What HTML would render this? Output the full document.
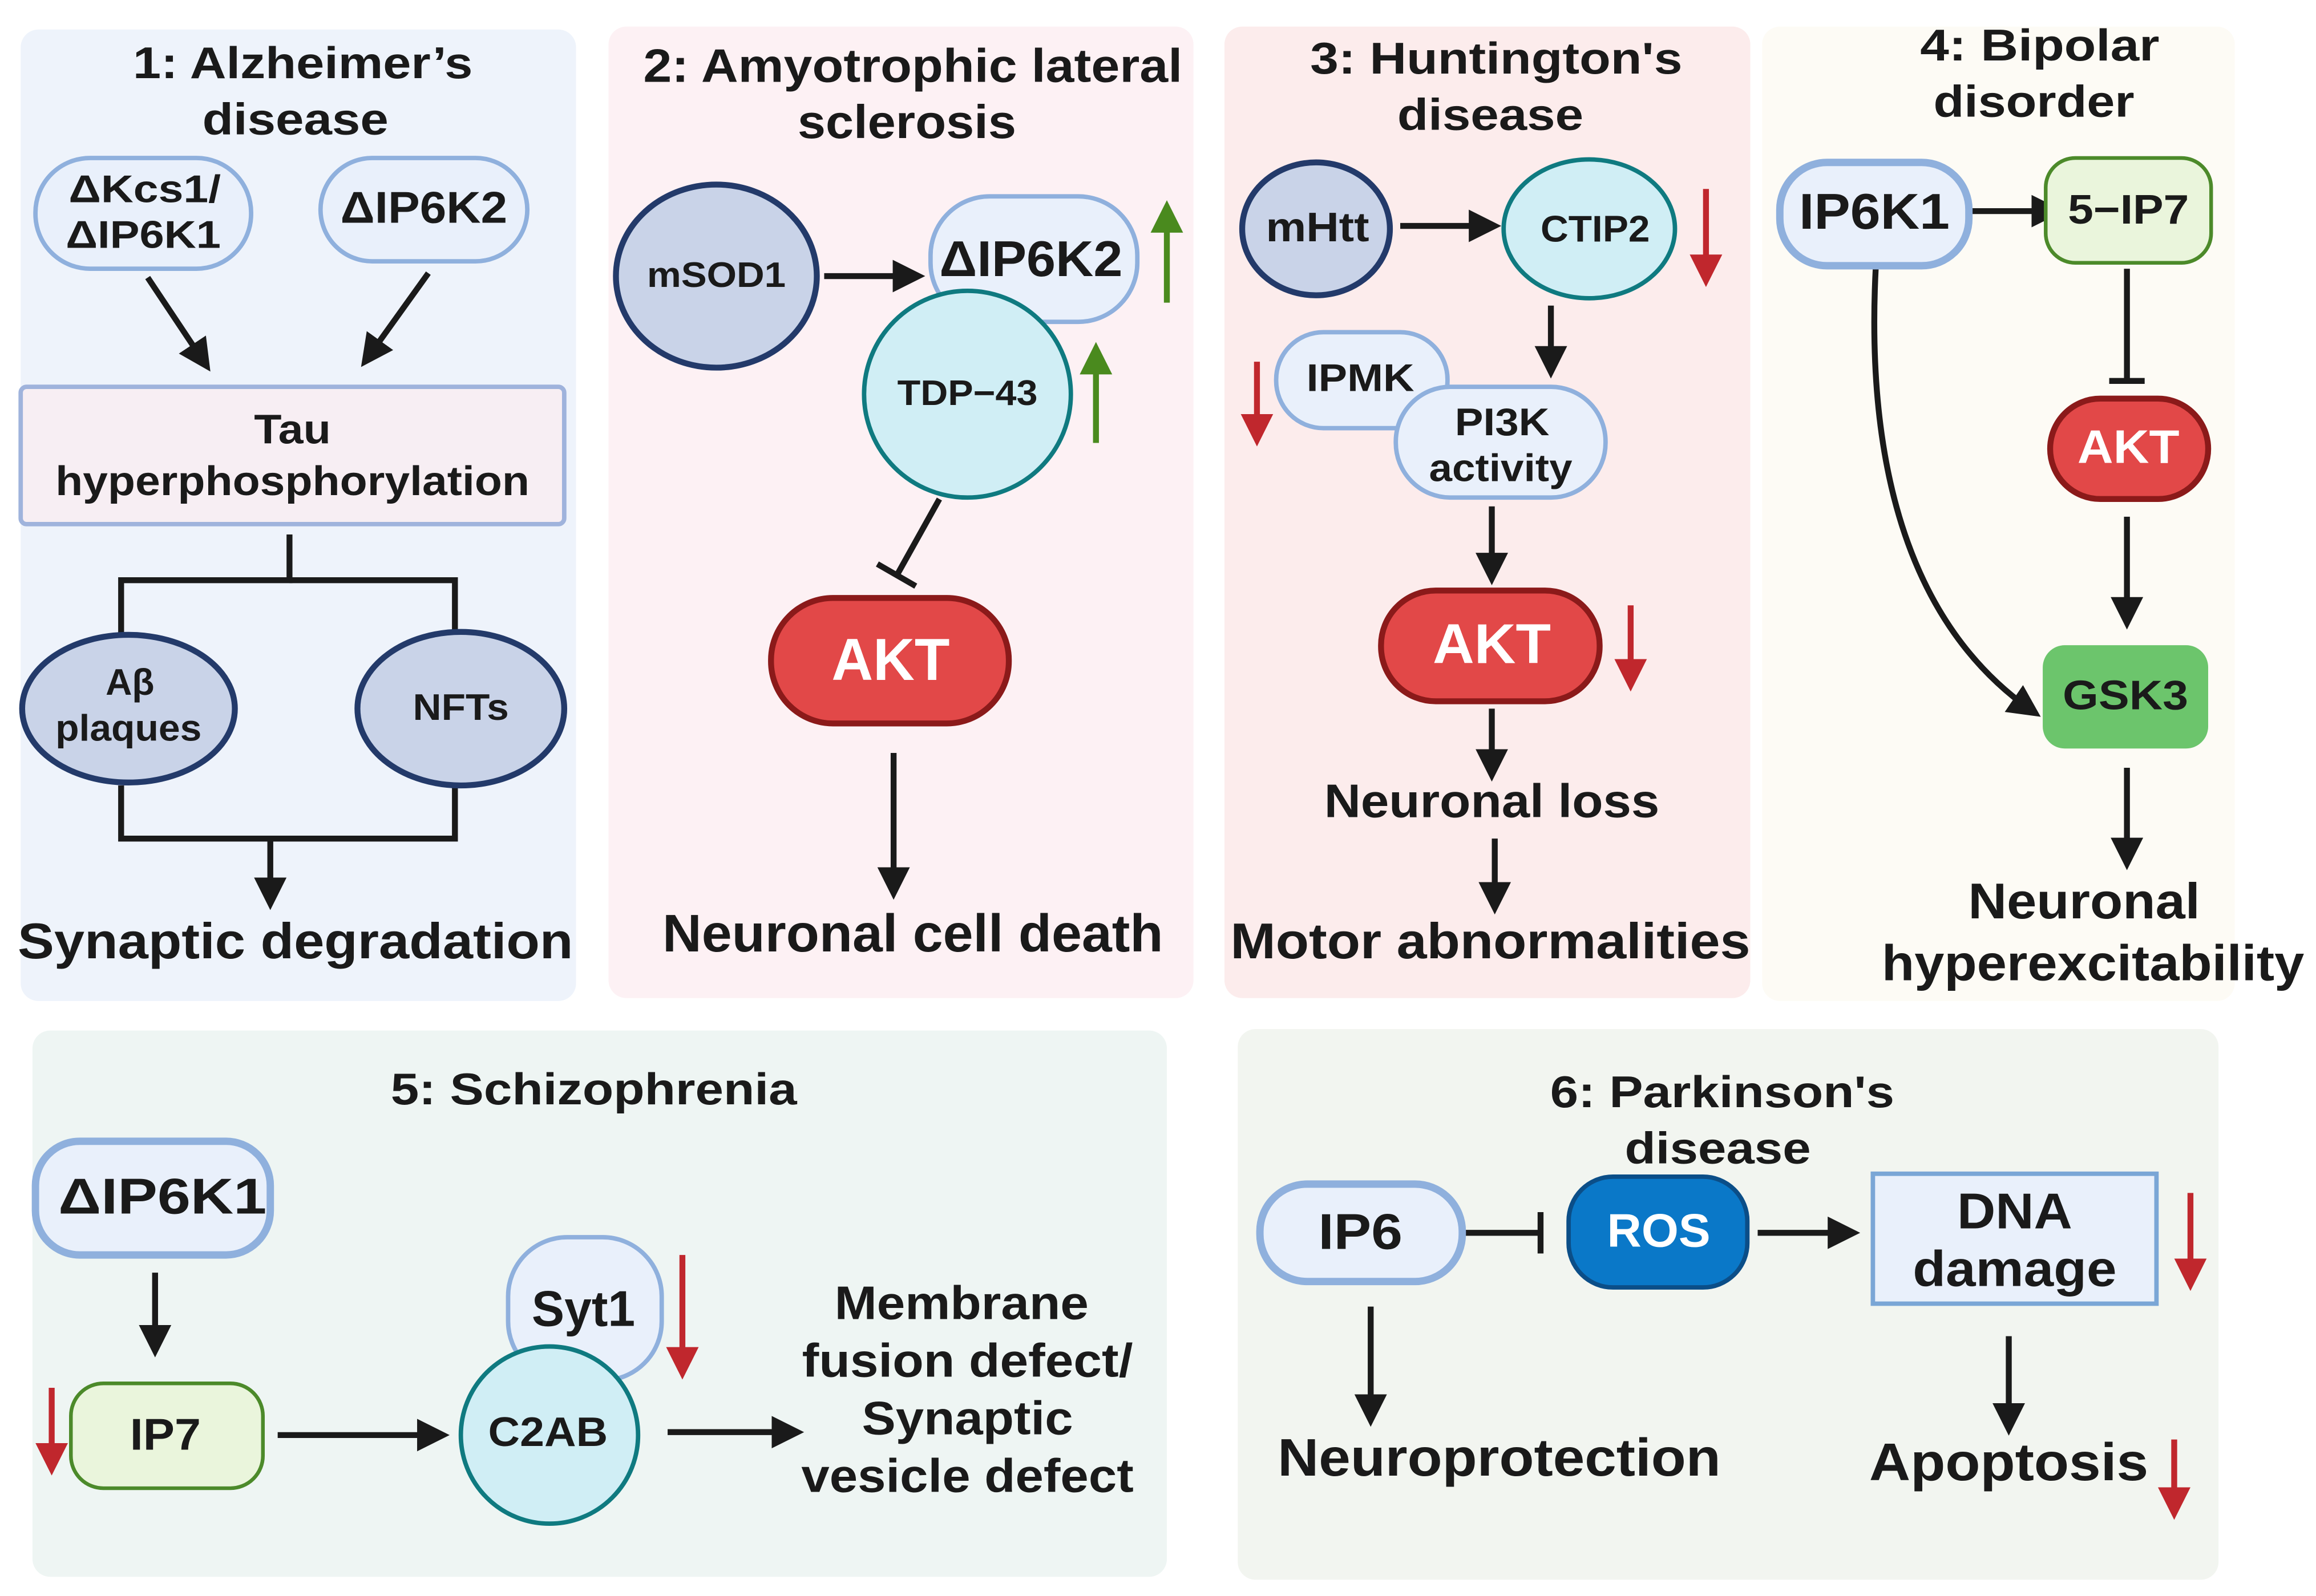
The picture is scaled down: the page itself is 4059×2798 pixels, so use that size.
<!DOCTYPE html>
<html><head><meta charset="utf-8"><style>
html,body{margin:0;padding:0;background:#fff;}
svg{display:block;}
text{font-family:"Liberation Sans",sans-serif;font-weight:bold;fill:#1a1a1a;text-anchor:middle;dominant-baseline:middle;}
</style></head><body>
<svg width="4059" height="2798" viewBox="0 0 1568 1081" preserveAspectRatio="none" xmlns="http://www.w3.org/2000/svg">
<defs>
<marker id="a" viewBox="0 0 10 10" refX="8" refY="5" markerWidth="22" markerHeight="22" orient="auto" markerUnits="userSpaceOnUse"><path d="M0,0 L10,5 L0,10 z" fill="#1a1a1a"/></marker>
<marker id="ar" viewBox="0 0 10 10" refX="8" refY="5" markerWidth="22" markerHeight="24" orient="auto" markerUnits="userSpaceOnUse"><path d="M0,0 L10,5 L0,10 z" fill="#c0272d"/></marker>
<marker id="ag" viewBox="0 0 10 10" refX="8" refY="5" markerWidth="22" markerHeight="24" orient="auto" markerUnits="userSpaceOnUse"><path d="M0,0 L10,5 L0,10 z" fill="#4a8a1e"/></marker>
</defs>
<rect x="14" y="20" width="376" height="658" rx="12" fill="#eef3fb"/>
<rect x="412" y="18" width="396" height="658" rx="12" fill="#fdf1f4"/>
<rect x="829" y="18" width="356" height="658" rx="12" fill="#fcecec"/>
<rect x="1193" y="18" width="320" height="660" rx="12" fill="#fdfbf5"/>
<rect x="22" y="698" width="768" height="370" rx="12" fill="#eef5f3"/>
<rect x="838" y="697" width="664" height="373" rx="12" fill="#f2f5f0"/>

<g stroke="#1a1a1a" stroke-width="4" fill="none">
<line x1="100" y1="188" x2="140" y2="248" marker-end="url(#a)"/>
<line x1="290" y1="185" x2="247" y2="245" marker-end="url(#a)"/>
<polyline points="196,362 196,393 82,393 82,430"/>
<polyline points="196,393 308,393 308,430"/>
<polyline points="82,532 82,568 308,568 308,532"/>
<line x1="183" y1="568" x2="183" y2="612" marker-end="url(#a)"/>
<line x1="558" y1="187" x2="622" y2="187" marker-end="url(#a)"/>
<line x1="636" y1="338" x2="607" y2="390"/>
<line x1="594" y1="382" x2="620" y2="397"/>
<line x1="605" y1="510" x2="605" y2="605" marker-end="url(#a)"/>
<line x1="948" y1="153" x2="1012" y2="153" marker-end="url(#a)"/>
<line x1="1050" y1="207" x2="1050" y2="252" marker-end="url(#a)"/>
<line x1="1010" y1="343" x2="1010" y2="392" marker-end="url(#a)"/>
<line x1="1010" y1="480" x2="1010" y2="525" marker-end="url(#a)"/>
<line x1="1012" y1="568" x2="1012" y2="615" marker-end="url(#a)"/>
<line x1="1335" y1="143" x2="1393" y2="143" marker-end="url(#a)"/>
<line x1="1440" y1="182" x2="1440" y2="258"/>
<line x1="1428" y1="258" x2="1452" y2="258"/>
<line x1="1440" y1="350" x2="1440" y2="422" marker-end="url(#a)"/>
<path d="M1270,180 C1262,330 1300,430 1378,483" marker-end="url(#a)"/>
<line x1="1440" y1="520" x2="1440" y2="585" marker-end="url(#a)"/>
<line x1="105" y1="862" x2="105" y2="915" marker-end="url(#a)"/>
<line x1="188" y1="972" x2="300" y2="972" marker-end="url(#a)"/>
<line x1="452" y1="970" x2="540" y2="970" marker-end="url(#a)"/>
<line x1="990" y1="835" x2="1043" y2="835"/>
<line x1="1043" y1="821" x2="1043" y2="849"/>
<line x1="1190" y1="835" x2="1255" y2="835" marker-end="url(#a)"/>
<line x1="928" y1="885" x2="928" y2="962" marker-end="url(#a)"/>
<line x1="1360" y1="905" x2="1360" y2="968" marker-end="url(#a)"/>
</g>
<g stroke-width="4" fill="none">
<line x1="790" y1="205" x2="790" y2="140" stroke="#4a8a1e" marker-end="url(#ag)"/>
<line x1="742" y1="300" x2="742" y2="236" stroke="#4a8a1e" marker-end="url(#ag)"/>
<line x1="1155" y1="128" x2="1155" y2="190" stroke="#c0272d" marker-end="url(#ar)"/>
<line x1="851" y1="245" x2="851" y2="298" stroke="#c0272d" marker-end="url(#ar)"/>
<line x1="1104" y1="410" x2="1104" y2="464" stroke="#c0272d" marker-end="url(#ar)"/>
<line x1="35" y1="940" x2="35" y2="995" stroke="#c0272d" marker-end="url(#ar)"/>
<line x1="462" y1="850" x2="462" y2="930" stroke="#c0272d" marker-end="url(#ar)"/>
<line x1="1483" y1="808" x2="1483" y2="870" stroke="#c0272d" marker-end="url(#ar)"/>
<line x1="1472" y1="975" x2="1472" y2="1025" stroke="#c0272d" marker-end="url(#ar)"/>
</g>

<!-- P1 -->
<text x="205" y="45" font-size="30" textLength="230" lengthAdjust="spacingAndGlyphs">1: Alzheimer’s</text>
<text x="200" y="83" font-size="30" textLength="126" lengthAdjust="spacingAndGlyphs">disease</text>
<rect x="24" y="107" width="146" height="75" rx="37" fill="#e9f0fb" stroke="#8fb0dd" stroke-width="3"/>
<text x="98" y="130" font-size="26" textLength="103" lengthAdjust="spacingAndGlyphs">ΔKcs1/</text>
<text x="97" y="161" font-size="26" textLength="105" lengthAdjust="spacingAndGlyphs">ΔIP6K1</text>
<rect x="217" y="107" width="140" height="70" rx="35" fill="#e9f0fb" stroke="#8fb0dd" stroke-width="3"/>
<text x="287" y="143" font-size="30" textLength="113" lengthAdjust="spacingAndGlyphs">ΔIP6K2</text>
<rect x="14" y="262" width="368" height="93" rx="4" fill="#f7eef3" stroke="#9fb3dc" stroke-width="3"/>
<text x="198" y="293" font-size="28" textLength="52" lengthAdjust="spacingAndGlyphs">Tau</text>
<text x="198" y="328" font-size="28" textLength="321" lengthAdjust="spacingAndGlyphs">hyperphosphorylation</text>
<ellipse cx="87" cy="480" rx="72" ry="50" fill="#c9d3e8" stroke="#233a6a" stroke-width="4"/>
<text x="88" y="464" font-size="25" textLength="33" lengthAdjust="spacingAndGlyphs">Aβ</text>
<text x="87" y="495" font-size="25" textLength="99" lengthAdjust="spacingAndGlyphs">plaques</text>
<ellipse cx="312" cy="480" rx="70" ry="52" fill="#c9d3e8" stroke="#233a6a" stroke-width="4"/>
<text x="312" y="481" font-size="25" textLength="65" lengthAdjust="spacingAndGlyphs">NFTs</text>
<text x="200" y="640" font-size="34" textLength="376" lengthAdjust="spacingAndGlyphs">Synaptic degradation</text>

<!-- P2 -->
<text x="618" y="47" font-size="32" textLength="365" lengthAdjust="spacingAndGlyphs">2: Amyotrophic lateral</text>
<text x="614" y="85" font-size="32" textLength="148" lengthAdjust="spacingAndGlyphs">sclerosis</text>
<ellipse cx="485" cy="187" rx="68" ry="62" fill="#c9d3e8" stroke="#233a6a" stroke-width="4"/>
<text x="485" y="188" font-size="24" textLength="94" lengthAdjust="spacingAndGlyphs">mSOD1</text>
<rect x="630" y="133" width="140" height="85" rx="40" fill="#e9f0fb" stroke="#8fb0dd" stroke-width="3"/>
<text x="698" y="178" font-size="34" textLength="124" lengthAdjust="spacingAndGlyphs">ΔIP6K2</text>
<circle cx="655" cy="267" r="70" fill="#d0eef5" stroke="#0f7a80" stroke-width="3"/>
<text x="655" y="268" font-size="24" textLength="95" lengthAdjust="spacingAndGlyphs">TDP−43</text>
<rect x="522" y="405" width="161" height="85" rx="42" fill="#e24848" stroke="#8b1a1a" stroke-width="4"/>
<text x="603" y="450" font-size="40" textLength="80" lengthAdjust="spacingAndGlyphs" style="fill:#fff">AKT</text>
<text x="618" y="635" font-size="36" textLength="339" lengthAdjust="spacingAndGlyphs">Neuronal cell death</text>

<!-- P3 -->
<text x="1013" y="42" font-size="30" textLength="252" lengthAdjust="spacingAndGlyphs">3: Huntington's</text>
<text x="1009" y="80" font-size="30" textLength="126" lengthAdjust="spacingAndGlyphs">disease</text>
<ellipse cx="891" cy="155" rx="50" ry="45" fill="#c9d3e8" stroke="#233a6a" stroke-width="4"/>
<text x="892" y="156" font-size="28" textLength="70" lengthAdjust="spacingAndGlyphs">mHtt</text>
<ellipse cx="1076" cy="155" rx="58" ry="47" fill="#d0eef5" stroke="#0f7a80" stroke-width="3"/>
<text x="1080" y="157" font-size="25" textLength="74" lengthAdjust="spacingAndGlyphs">CTIP2</text>
<rect x="864" y="225" width="116" height="65" rx="32" fill="#e9f0fb" stroke="#8fb0dd" stroke-width="3"/>
<text x="921" y="258" font-size="26" textLength="73" lengthAdjust="spacingAndGlyphs">IPMK</text>
<rect x="945" y="262" width="142" height="75" rx="37" fill="#e9f0fb" stroke="#8fb0dd" stroke-width="3"/>
<text x="1017" y="288" font-size="26" textLength="64" lengthAdjust="spacingAndGlyphs">PI3K</text>
<text x="1016" y="319" font-size="26" textLength="97" lengthAdjust="spacingAndGlyphs">activity</text>
<rect x="935" y="400" width="148" height="75" rx="37" fill="#e24848" stroke="#8b1a1a" stroke-width="4"/>
<text x="1010" y="439" font-size="38" textLength="80" lengthAdjust="spacingAndGlyphs" style="fill:#fff">AKT</text>
<text x="1010" y="545" font-size="32" textLength="227" lengthAdjust="spacingAndGlyphs">Neuronal loss</text>
<text x="1009" y="640" font-size="34" textLength="352" lengthAdjust="spacingAndGlyphs">Motor abnormalities</text>

<!-- P4 -->
<text x="1381" y="33" font-size="30" textLength="162" lengthAdjust="spacingAndGlyphs">4: Bipolar</text>
<text x="1377" y="71" font-size="30" textLength="136" lengthAdjust="spacingAndGlyphs">disorder</text>
<rect x="1205" y="110" width="128" height="70" rx="32" fill="#e9f0fb" stroke="#8fb0dd" stroke-width="5"/>
<text x="1269" y="146" font-size="34" textLength="102" lengthAdjust="spacingAndGlyphs">IP6K1</text>
<rect x="1385" y="107" width="112" height="71" rx="20" fill="#eaf5dc" stroke="#4c8a2a" stroke-width="2.5"/>
<text x="1441" y="144" font-size="28" textLength="82" lengthAdjust="spacingAndGlyphs">5−IP7</text>
<rect x="1388" y="270" width="107" height="68" rx="34" fill="#e24848" stroke="#8b1a1a" stroke-width="4"/>
<text x="1441" y="305" font-size="32" textLength="69" lengthAdjust="spacingAndGlyphs" style="fill:#fff">AKT</text>
<rect x="1383" y="437" width="112" height="70" rx="15" fill="#6cc56c"/>
<text x="1439" y="473" font-size="28" textLength="85" lengthAdjust="spacingAndGlyphs">GSK3</text>
<text x="1411" y="613" font-size="34" textLength="157" lengthAdjust="spacingAndGlyphs">Neuronal</text>
<text x="1417" y="655" font-size="34" textLength="286" lengthAdjust="spacingAndGlyphs">hyperexcitability</text>

<!-- P5 -->
<text x="402" y="740" font-size="30" textLength="275" lengthAdjust="spacingAndGlyphs">5: Schizophrenia</text>
<rect x="24" y="773" width="159" height="77" rx="30" fill="#e9f0fb" stroke="#8fb0dd" stroke-width="5"/>
<text x="110" y="813" font-size="34" textLength="141" lengthAdjust="spacingAndGlyphs">ΔIP6K1</text>
<rect x="48" y="937" width="130" height="71" rx="22" fill="#eaf5dc" stroke="#4c8a2a" stroke-width="2.5"/>
<text x="112" y="974" font-size="30" textLength="48" lengthAdjust="spacingAndGlyphs">IP7</text>
<rect x="344" y="838" width="104" height="97" rx="40" fill="#e9f0fb" stroke="#8fb0dd" stroke-width="3"/>
<text x="395" y="889" font-size="34" textLength="70" lengthAdjust="spacingAndGlyphs">Syt1</text>
<circle cx="372" cy="972" r="60" fill="#d0eef5" stroke="#0f7a80" stroke-width="3"/>
<text x="371" y="972" font-size="28" textLength="81" lengthAdjust="spacingAndGlyphs">C2AB</text>
<text x="651" y="885" font-size="32" textLength="172" lengthAdjust="spacingAndGlyphs">Membrane</text>
<text x="655" y="924" font-size="32" textLength="224" lengthAdjust="spacingAndGlyphs">fusion defect/</text>
<text x="655" y="963" font-size="32" textLength="143" lengthAdjust="spacingAndGlyphs">Synaptic</text>
<text x="655" y="1002" font-size="32" textLength="225" lengthAdjust="spacingAndGlyphs">vesicle defect</text>

<!-- P6 -->
<text x="1166" y="742" font-size="30" textLength="233" lengthAdjust="spacingAndGlyphs">6: Parkinson's</text>
<text x="1163" y="780" font-size="30" textLength="126" lengthAdjust="spacingAndGlyphs">disease</text>
<rect x="853" y="802" width="137" height="66" rx="32" fill="#e9f0fb" stroke="#8fb0dd" stroke-width="5"/>
<text x="921" y="837" font-size="34" textLength="57" lengthAdjust="spacingAndGlyphs">IP6</text>
<rect x="1062" y="797" width="121" height="75" rx="30" fill="#0a78c8" stroke="#0b4e88" stroke-width="3"/>
<text x="1123" y="836" font-size="32" textLength="70" lengthAdjust="spacingAndGlyphs" style="fill:#fff">ROS</text>
<rect x="1268" y="795" width="192" height="88" fill="#e9f0fb" stroke="#7aa6d6" stroke-width="3"/>
<text x="1364" y="823" font-size="34" textLength="78" lengthAdjust="spacingAndGlyphs">DNA</text>
<text x="1364" y="862" font-size="34" textLength="138" lengthAdjust="spacingAndGlyphs">damage</text>
<text x="1015" y="990" font-size="36" textLength="300" lengthAdjust="spacingAndGlyphs">Neuroprotection</text>
<text x="1360" y="993" font-size="36" textLength="189" lengthAdjust="spacingAndGlyphs">Apoptosis</text>
</svg>
</body></html>
